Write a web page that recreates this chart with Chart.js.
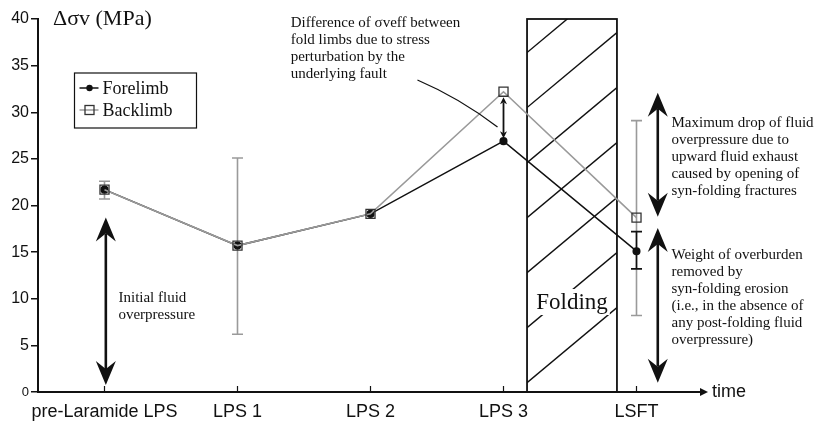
<!DOCTYPE html>
<html lang="en">
<head>
<meta charset="UTF-8">
<title>Δσv through time</title>
<script src="https://cdn.jsdelivr.net/npm/chart.js"></script>
<style>
  body { margin: 0; background: #fff; }
  #wrap { width: 814px; height: 422px; position: relative; }
</style>
</head>
<body>
<div id="wrap"><canvas id="stressChart"></canvas></div>
<script>
  // stages along the time axis
  const stages = ['pre-Laramide LPS', 'LPS 1', 'LPS 2', 'LPS 3', 'LSFT'];
  // differential vertical stress (MPa)
  const forelimb = [21.7, 15.7, 19.1, 26.9, 15.1];
  const backlimb = [21.7, 15.7, 19.1, 32.2, 18.7];
  // error bar ranges, null where there is none
  const forelimbLow  = [null, null, null, null, 13.2];
  const forelimbHigh = [null, null, null, null, 17.2];
  const backlimbLow  = [20.7, 6.2, null, null, 8.2];
  const backlimbHigh = [22.6, 25.1, null, null, 29.1];
  const yMin = 0, yMax = 40, yStep = 5;

  const SERIF = '"Liberation Serif", "DejaVu Serif", serif';
  const SANS = '"Liberation Sans", Arial, sans-serif';

  // annotation arrows, in data units (x = stage index, values in MPa)
  const bigArrows = [
    { x: 0.01, from: 18.7, to: 0.75 },   // initial fluid overpressure
    { x: 4.16, from: 32.1, to: 18.8 },   // max drop of overpressure
    { x: 4.16, from: 17.6, to: 1.0 }     // weight of overburden
  ];
  const limbArrow = { x: 3, from: 31.6, to: 27.2 };
  const foldingBox = { from: 3.177, to: 3.853 };

  const notes = [
    { x: 1.40, y: 39.6, lines: ['Difference of σveff between', 'fold limbs due to stress', 'perturbation by the', 'underlying fault'] },
    { x: 0.105, y: 10.1, lines: ['Initial fluid', 'overpressure'] },
    { x: 4.263, y: 28.85, lines: ['Maximum drop of fluid', 'overpressure due to', 'upward fluid exhaust', 'caused by opening of', 'syn-folding fractures'] },
    { x: 4.263, y: 14.7, lines: ['Weight of overburden', 'removed by', 'syn-folding erosion', '(i.e., in the absence of', 'any post-folding fluid', 'overpressure)'] }
  ];

  function head(ctx, x, tipY, dir, L, W, N) {
    // dir = 1 points down, -1 points up
    ctx.beginPath();
    ctx.moveTo(x, tipY);
    ctx.lineTo(x - W, tipY - dir * L);
    ctx.lineTo(x, tipY - dir * N);
    ctx.lineTo(x + W, tipY - dir * L);
    ctx.closePath();
    ctx.fill();
  }

  function doubleArrow(ctx, x, yTop, yBot, L, W, N, lw) {
    ctx.lineWidth = lw;
    ctx.beginPath();
    ctx.moveTo(x, yTop + N);
    ctx.lineTo(x, yBot - N);
    ctx.stroke();
    head(ctx, x, yTop, -1, L, W, N);
    head(ctx, x, yBot, 1, L, W, N);
  }

  function errorBars(ctx, x, y, low, high, color) {
    ctx.strokeStyle = color;
    ctx.lineWidth = 1.6;
    low.forEach((lo, i) => {
      if (lo === null) return;
      const px = x.getPixelForValue(i);
      const y0 = y.getPixelForValue(lo), y1 = y.getPixelForValue(high[i]);
      ctx.beginPath();
      ctx.moveTo(px, y0); ctx.lineTo(px, y1);
      ctx.moveTo(px - 5.5, y0); ctx.lineTo(px + 5.5, y0);
      ctx.moveTo(px - 5.5, y1); ctx.lineTo(px + 5.5, y1);
      ctx.stroke();
    });
  }

  const annotate = {
    id: 'annotate',
    beforeDatasetsDraw(chart) {
      const { ctx, scales: { x, y } } = chart;
      const bx0 = x.getPixelForValue(foldingBox.from), bx1 = x.getPixelForValue(foldingBox.to);
      const by0 = y.getPixelForValue(yMax), by1 = y.getPixelForValue(yMin);
      ctx.save();
      // hatch inside the folding box
      ctx.beginPath();
      ctx.rect(bx0, by0, bx1 - bx0, by1 - by0);
      ctx.clip();
      ctx.strokeStyle = '#111';
      ctx.lineWidth = 1.4;
      for (let v = 1.0; v < 40; v += 5.9) {
        ctx.beginPath();
        ctx.moveTo(bx0, y.getPixelForValue(v));
        ctx.lineTo(bx1, y.getPixelForValue(v + 8.05));
        ctx.stroke();
      }
      ctx.restore();
      ctx.save();
      ctx.strokeStyle = '#111';
      ctx.lineWidth = 1.8;
      ctx.strokeRect(bx0, by0, bx1 - bx0, by1 - by0);
      // "Folding" label with white backing
      ctx.font = '23px ' + SERIF;
      const fx = (bx0 + bx1) / 2, fy = y.getPixelForValue(9.65);
      const tw = ctx.measureText('Folding').width;
      ctx.fillStyle = '#fff';
      ctx.fillRect(fx - tw / 2 - 2, fy - 13, tw + 4, 26);
      ctx.fillStyle = '#111';
      ctx.textAlign = 'center';
      ctx.textBaseline = 'middle';
      ctx.fillText('Folding', fx, fy + 1);

      errorBars(ctx, x, y, backlimbLow, backlimbHigh, '#9a9a9a');
      errorBars(ctx, x, y, forelimbLow, forelimbHigh, '#111');
      ctx.restore();
    },
    afterDraw(chart) {
      const { ctx, chartArea: a, scales: { x, y } } = chart;
      ctx.save();
      // x axis with arrow
      const y0 = y.getPixelForValue(0);
      ctx.strokeStyle = '#111';
      ctx.fillStyle = '#111';
      ctx.lineWidth = 2;
      ctx.beginPath();
      ctx.moveTo(a.left - 1, y0); ctx.lineTo(a.right, y0);
      ctx.stroke();
      ctx.beginPath();
      ctx.moveTo(a.right + 5, y0); ctx.lineTo(a.right - 3, y0 - 4); ctx.lineTo(a.right - 3, y0 + 4);
      ctx.closePath(); ctx.fill();
      ctx.lineWidth = 1.2;
      stages.forEach((s, i) => {
        const px = x.getPixelForValue(i);
        ctx.beginPath(); ctx.moveTo(px, y0); ctx.lineTo(px, y0 - 6); ctx.stroke();
      });
      ctx.font = '18px ' + SANS;
      ctx.textBaseline = 'middle';
      ctx.fillText('time', a.right + 9, y0);

      // y axis title
      ctx.font = '22px ' + SERIF;
      ctx.fillText('Δσv (MPa)', a.left + 15, a.top);

      // big double arrows
      bigArrows.forEach(r => {
        doubleArrow(ctx, x.getPixelForValue(r.x), y.getPixelForValue(r.from), y.getPixelForValue(r.to), 24, 10, 16, 2.6);
      });
      doubleArrow(ctx, x.getPixelForValue(limbArrow.x), y.getPixelForValue(limbArrow.from), y.getPixelForValue(limbArrow.to), 7, 3.5, 5, 1.8);

      // pointer from the note to the limb arrow
      ctx.lineWidth = 1.3;
      ctx.beginPath();
      ctx.moveTo(x.getPixelForValue(2.353), y.getPixelForValue(33.46));
      ctx.quadraticCurveTo(x.getPixelForValue(2.669), y.getPixelForValue(31.53), x.getPixelForValue(2.955), y.getPixelForValue(28.42));
      ctx.stroke();

      // notes
      ctx.font = '15px ' + SERIF;
      ctx.textAlign = 'left';
      notes.forEach(n => {
        const nx = x.getPixelForValue(n.x), ny = y.getPixelForValue(n.y);
        n.lines.forEach((t, k) => ctx.fillText(t, nx, ny + k * 17));
      });

      // legend
      const lx = a.left + 36.5, ly = a.top + 54;
      ctx.lineWidth = 1.2;
      ctx.strokeRect(lx, ly, 122, 55);
      ctx.font = '18px ' + SERIF;
      const rows = [
        { label: 'Forelimb', color: '#111', dot: true },
        { label: 'Backlimb', color: '#9a9a9a', dot: false }
      ];
      rows.forEach((r, k) => {
        const ry = ly + 15 + k * 22;
        ctx.strokeStyle = r.color;
        ctx.lineWidth = 1.5;
        ctx.beginPath(); ctx.moveTo(lx + 5, ry); ctx.lineTo(lx + 24, ry); ctx.stroke();
        if (r.dot) {
          ctx.fillStyle = '#111';
          ctx.beginPath(); ctx.arc(lx + 15, ry, 3.2, 0, Math.PI * 2); ctx.fill();
        } else {
          ctx.strokeStyle = '#333';
          ctx.lineWidth = 1.3;
          ctx.strokeRect(lx + 10.5, ry - 4.5, 9, 9);
        }
        ctx.fillStyle = '#111';
        ctx.fillText(r.label, lx + 28, ry + 1);
      });
      ctx.restore();
    }
  };

  const ctx = document.getElementById('stressChart').getContext('2d');
  new Chart(ctx, {
    type: 'line',
    data: {
      labels: stages,
      datasets: [
        {
          label: 'Backlimb',
          data: backlimb,
          borderColor: '#9a9a9a',
          borderWidth: 1.6,
          pointStyle: 'rect',
          pointRadius: 6.4,
          pointBackgroundColor: 'rgba(255,255,255,0)',
          pointBorderColor: '#333',
          pointBorderWidth: 1.3,
          order: 0
        },
        {
          label: 'Forelimb',
          data: forelimb,
          borderColor: '#111',
          borderWidth: 1.5,
          pointRadius: 3.3,
          pointBackgroundColor: '#111',
          pointBorderColor: '#111',
          order: 1
        }
      ]
    },
    options: {
      responsive: true,
      maintainAspectRatio: false,
      animation: false,
      layout: { padding: { left: 0, right: 111, top: 19, bottom: 0 } },
      plugins: { legend: { display: false }, tooltip: { enabled: false } },
      scales: {
        x: {
          offset: true,
          grid: { display: false },
          border: { display: false },
          ticks: {
            color: '#111',
            font: { family: SANS, size: 18 },
            maxRotation: 0, minRotation: 0, autoSkip: false, padding: 1
          },
          afterFit(scale) { scale.height = 30; }
        },
        y: {
          min: yMin, max: yMax,
          grid: { drawOnChartArea: false, drawTicks: true, tickLength: 7, color: '#111', lineWidth: 1.5 },
          border: { display: true, color: '#111', width: 2 },
          ticks: {
            stepSize: yStep,
            color: '#111',
            padding: 2,
            font: (c) => ({ family: SANS, size: c.tick && c.tick.value === 0 ? 13 : 16 })
          },
          afterFit(scale) { scale.width = 38; }
        }
      }
    },
    plugins: [annotate]
  });
</script>
</body>
</html>
